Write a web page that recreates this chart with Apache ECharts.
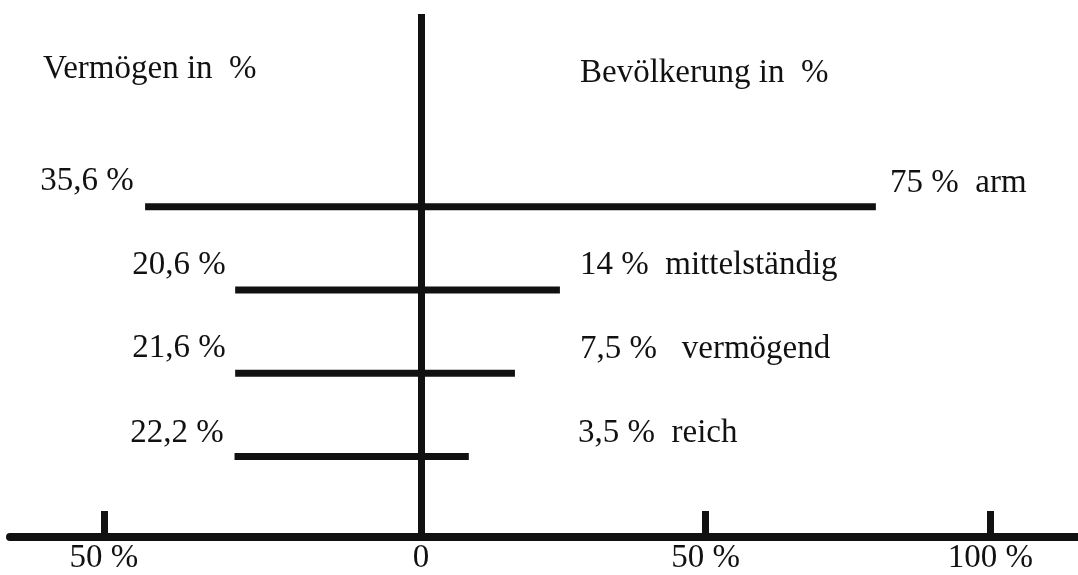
<!DOCTYPE html>
<html>
<head>
<meta charset="utf-8">
<style>
  html, body { margin: 0; padding: 0; background: #fff; }
  #chart { width: 1078px; height: 575px; }
</style>
<script src="https://cdn.jsdelivr.net/npm/echarts@6/dist/echarts.min.js"></script>
</head>
<body>
<div id="chart"></div>
<script>
"use strict";
// Klassen, von oben nach unten
var classes = ['arm', 'mittelständig', 'vermögend', 'reich'];
// Zeile auf der y-Achse (oben = 4)
var rowPos = [4, 3, 2, 1];
// gedruckte Zahlen
var wealthText = ['35,6 %', '20,6 %', '21,6 %', '22,2 %'];
var peopleText = ['75 %  arm', '14 %  mittelständig', '7,5 %   vermögend', '3,5 %  reich'];
// Balkenlängen so wie gezeichnet, an den Achsen abgelesen
// (die Skizze ist nicht maßstabsgetreu zu den Zahlen)
var wealthBar = [43.5, 29.3, 29.3, 29.4];
var peopleBar = [79.9, 24.4, 16.5, 8.4];
// Achsenmarken
var leftTicks = [50];
var leftLabels = [0, 50];
var rightTicks = [50, 100];

var ink = '#111';
var fontFamily = '"Liberation Serif", "DejaVu Serif", serif';
var font = '33px ' + fontFamily;

var chart = echarts.init(document.getElementById('chart'));

function barSeries(side, i) {
  var len = side === 0 ? wealthBar[i] : peopleBar[i];
  return {
    type: 'line',
    xAxisIndex: side,
    yAxisIndex: side,
    data: [[0, rowPos[i]], [len, rowPos[i]]],
    symbol: 'none',
    silent: true,
    clip: false,
    lineStyle: { color: ink, width: 7, cap: 'butt' }
  };
}

var series = [];
classes.forEach(function (c, i) {
  series.push(barSeries(0, i));
  series.push(barSeries(1, i));
});

function label(text, x, y, align) {
  return {
    type: 'text',
    x: x,
    y: y,
    silent: true,
    style: { text: text, font: font, fill: ink, align: align || 'left', verticalAlign: 'middle' }
  };
}

var leftLabelPos = [[87, 181], [179, 265], [179, 348], [177, 433]];
var rightLabelPos = [[890, 183], [580, 265], [580, 349], [578, 433]];

var graphics = [
  label('Vermögen in  %', 43, 69),
  label('Bevölkerung in  %', 580, 73)
];
classes.forEach(function (c, i) {
  graphics.push(label(wealthText[i], leftLabelPos[i][0], leftLabelPos[i][1], 'center'));
  graphics.push(label(peopleText[i], rightLabelPos[i][0], rightLabelPos[i][1], 'left'));
});

var axisLabelStyle = {
  color: ink,
  fontFamily: fontFamily,
  fontSize: 33,
  margin: 5
};

var option = {
  animation: false,
  backgroundColor: '#fff',
  grid: [
    { left: 10, right: 657, top: 14, bottom: 37.5 },
    { left: 421, right: 0, top: 14, bottom: 37.5 }
  ],
  xAxis: [
    {
      type: 'value', gridIndex: 0, min: 0, max: 64.8, inverse: true,
      splitLine: { show: false },
      axisLine: { onZero: false, lineStyle: { color: ink, width: 8 } },
      axisTick: { inside: true, length: 26, customValues: leftTicks, lineStyle: { color: ink, width: 7 } },
      axisLabel: Object.assign({
        customValues: leftLabels,
        formatter: function (v) { return v === 0 ? '0' : v + ' %'; }
      }, axisLabelStyle)
    },
    {
      type: 'value', gridIndex: 1, min: 0, max: 115.4,
      splitLine: { show: false },
      axisLine: { onZero: false, lineStyle: { color: ink, width: 8 } },
      axisTick: { inside: true, length: 26, customValues: rightTicks, lineStyle: { color: ink, width: 7 } },
      axisLabel: Object.assign({
        customValues: rightTicks,
        formatter: function (v) { return v + ' %'; }
      }, axisLabelStyle)
    }
  ],
  yAxis: [
    { type: 'value', gridIndex: 0, min: 0.034, max: 6.316, show: false },
    {
      type: 'value', gridIndex: 1, min: 0.034, max: 6.316,
      splitLine: { show: false },
      axisLine: { show: true, onZero: false, lineStyle: { color: ink, width: 7, cap: 'butt' } },
      axisTick: { show: false },
      axisLabel: { show: false }
    }
  ],
  graphic: graphics,
  series: series
};

chart.setOption(option);
</script>
</body>
</html>
